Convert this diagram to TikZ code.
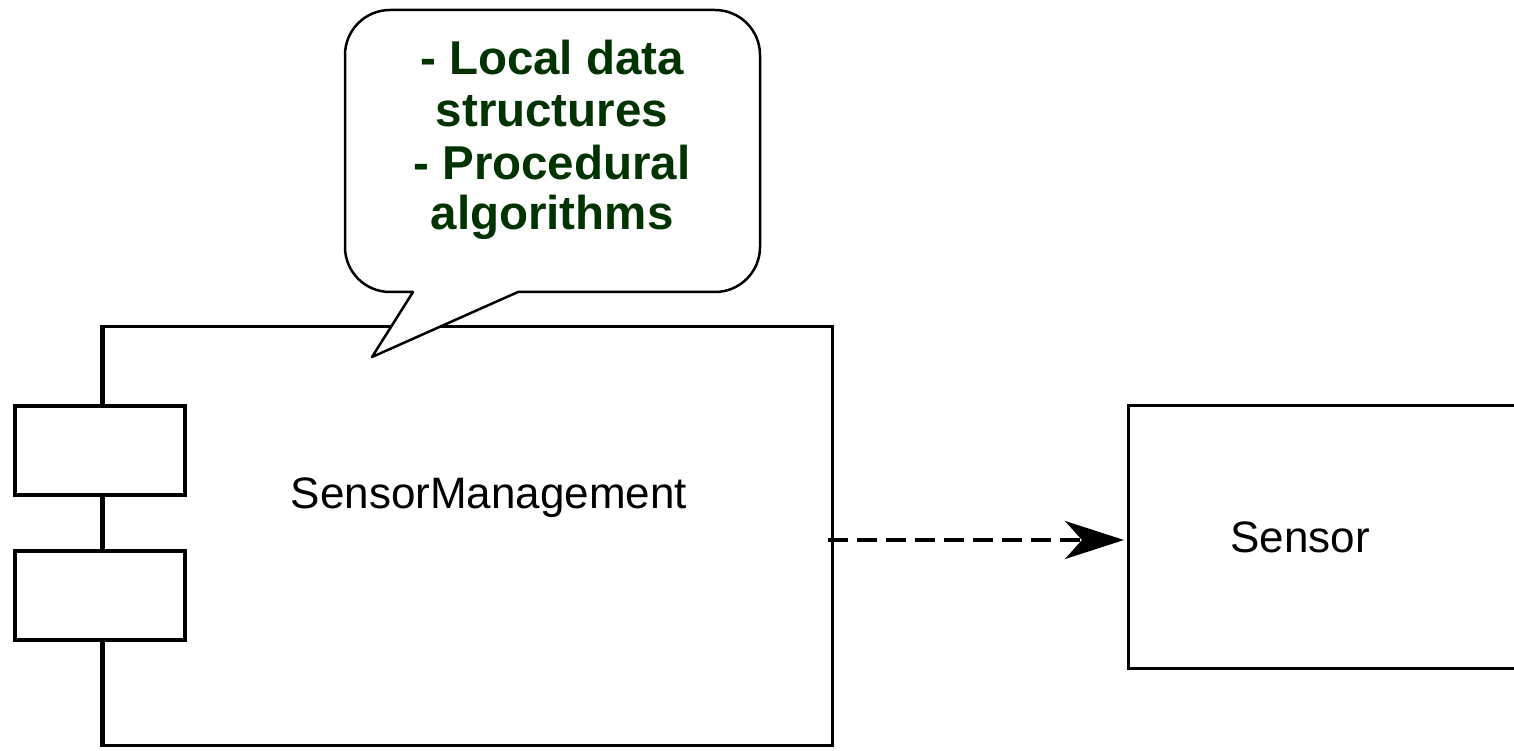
\documentclass[tikz,border=0pt]{standalone}
\usepackage{fontspec}
\setmainfont{Liberation Sans}
\usetikzlibrary{arrows.meta}
\definecolor{notegreen}{HTML}{003300}
\begin{document}
\begin{tikzpicture}[x=1pt,y=1pt,
  boxline/.style={draw=black,line width=3pt},
  tabline/.style={draw=black,fill=white,line width=4pt},
  calloutline/.style={draw=black,fill=white,line width=2.5pt,line join=round},
  depline/.style={draw=black,line width=3.5pt,dash pattern=on 20pt off 9pt,
    -{Stealth[length=59pt,width=38pt,inset=17pt]}},
  plaintext/.style={font=\fontsize{44}{52}\selectfont,inner sep=0pt},
  notetext/.style={font=\fontsize{47.5}{52}\selectfont\bfseries,text=notegreen,inner sep=0pt,anchor=base}
]
\useasboundingbox (0,0) rectangle (1514,750);
\clip (0,0) rectangle (1514,750);

% main component
\node[boxline,minimum width=729pt,minimum height=419pt,anchor=south west,inner sep=0pt] (mgmt) at (102,3) {};
\draw[line width=4.5pt] (mgmt.south west) -- (mgmt.north west);
\node[tabline,minimum width=170pt,minimum height=89pt,anchor=south west,inner sep=0pt] (tab1) at (13,253) {};
\node[tabline,minimum width=170pt,minimum height=89pt,anchor=south west,inner sep=0pt] (tab2) at (13,108) {};
\node[plaintext] (mgmtlabel) at (489,252) {SensorManagement};

% sensor component
\node[boxline,minimum width=420pt,minimum height=263pt,anchor=south west,inner sep=0pt] (sensor) at (1127,80) {};
\node[plaintext] (sensorlabel) at (1300,213) {Sensor};

% dependency
\coordinate (depstart) at (828,210);
\coordinate (depend) at (1124,210);
\draw[depline] (depstart) -- (depend);

% callout
\path[calloutline] (518,458) -- (715,458) arc[start angle=-90,end angle=0,radius=45]
  -- (760,695) arc[start angle=0,end angle=90,radius=45]
  -- (390,740) arc[start angle=90,end angle=180,radius=45]
  -- (345,503) arc[start angle=180,end angle=270,radius=45]
  -- (413,458) -- (372,393) -- cycle;
\node[notetext] (l1) at (552,675) {- Local data};
\node[notetext] (l2) at (552,623) {structures};
\node[notetext] (l3) at (552,570) {- Procedural};
\node[notetext] (l4) at (552,520) {algorithms};
\end{tikzpicture}
\end{document}
